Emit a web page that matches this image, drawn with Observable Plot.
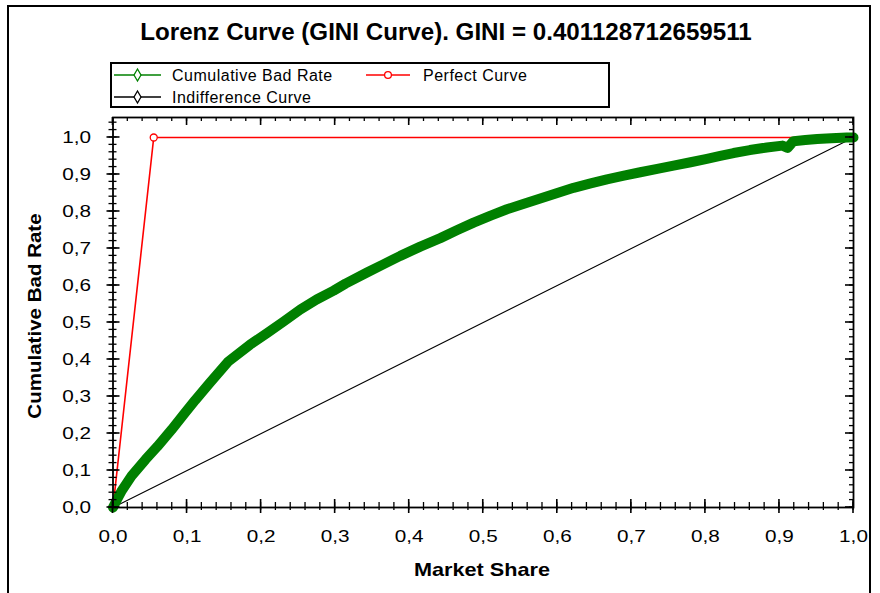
<!DOCTYPE html>
<html>
<head>
<meta charset="utf-8">
<script src="https://cdn.jsdelivr.net/npm/d3@7"></script>
<script src="https://cdn.jsdelivr.net/npm/@observablehq/plot@0.6"></script>
<style>
  body { margin: 0; background: #fff; }
  #chart { position: relative; width: 880px; height: 593px; overflow: hidden; background: #fff;
           font-family: "Liberation Sans", Arial, sans-serif; color: #000; }
  #chart > svg.plot { position: absolute; left: 0; top: 0; }
  .border { position: absolute; background: #000; }
  .title { position: absolute; left: 0; width: 892px; top: 19px; line-height: 26px; text-align: center;
           font-size: 23px; font-weight: bold; white-space: nowrap; transform: scaleX(1.05); }
  .xlabel { position: absolute; left: 382px; width: 200px; top: 558px; line-height: 24px; text-align: center;
            font-size: 19px; font-weight: bold; white-space: nowrap; transform: scaleX(1.14); }
  .ylabel { position: absolute; left: -115px; width: 300px; top: 304px; line-height: 24px; text-align: center;
            font-size: 19px; font-weight: bold; white-space: nowrap; transform: rotate(-90deg) scaleX(1.08); }
  #legend { position: absolute; left: 110px; top: 62px; }
</style>
</head>
<body>
<div id="chart">
  <div class="border" style="left:7px; top:5px; width:2px; height:588px;"></div>
  <div class="border" style="left:7px; top:5px; width:864px; height:2px;"></div>
  <div class="border" style="left:869px; top:5px; width:2px; height:588px;"></div>
  <div class="title">Lorenz Curve (GINI Curve). GINI = 0.401128712659511</div>
  <div class="xlabel">Market Share</div>
  <div class="ylabel">Cumulative Bad Rate</div>
</div>
<script>
// Cumulative bad rate against market share (Lorenz curve of the score)
const marketShare = [0, 0.005, 0.012, 0.025, 0.044, 0.06, 0.079, 0.095, 0.111, 0.13, 0.156, 0.185,
  0.208, 0.23, 0.253, 0.275, 0.298, 0.314, 0.343, 0.365, 0.388, 0.415, 0.442, 0.465, 0.487, 0.51,
  0.532, 0.555, 0.577, 0.6, 0.622, 0.645, 0.667, 0.69, 0.712, 0.735, 0.757, 0.78, 0.802, 0.82,
  0.838, 0.86, 0.883, 0.904, 0.911, 0.919, 0.935, 0.951, 0.97, 0.991, 1.0];
const cumulativeBadRate = [0, 0.02, 0.046, 0.085, 0.13, 0.165, 0.21, 0.25, 0.29, 0.335, 0.395, 0.44,
  0.471, 0.502, 0.535, 0.562, 0.586, 0.605, 0.635, 0.657, 0.68, 0.705, 0.728, 0.75, 0.77, 0.789,
  0.806, 0.821, 0.835, 0.85, 0.864, 0.876, 0.887, 0.897, 0.906, 0.915, 0.924, 0.933, 0.942, 0.95,
  0.958, 0.966, 0.973, 0.978, 0.972, 0.99, 0.993, 0.996, 0.998, 1.0, 1.0];

// Perfect model: all bads captured in the worst-scored share
const perfectShare = [0, 0.055, 1];
const perfectRate = [0, 1, 1];

// Random model: diagonal
const indifferenceShare = [0, 1];
const indifferenceRate = [0, 1];

const majorTicks = [0, 0.1, 0.2, 0.3, 0.4, 0.5, 0.6, 0.7, 0.8, 0.9, 1.0];
const tickLabels = ["0,0", "0,1", "0,2", "0,3", "0,4", "0,5", "0,6", "0,7", "0,8", "0,9", "1,0"];
const minorTicksX = d3.range(0, 51).map(i => i / 50);
const minorTicksY = d3.range(0, 53).map(i => i / 50);

const zip = (xs, ys) => xs.map((x, i) => ({x, y: ys[i]}));
const lorenz = zip(marketShare, cumulativeBadRate);
const perfect = zip(perfectShare, perfectRate);
const indifference = zip(indifferenceShare, indifferenceRate);
const fmt = d => tickLabels[majorTicks.findIndex(t => Math.abs(t - d) < 1e-9)];

// Tick marks on all four sides of the frame, placed through the x and y scales:
// crossing ticks on the bottom and left axes, inward ticks on the top and right.
function frameTicks(index, scales, values, dim) {
  const {x, y} = scales;
  const L = dim.marginLeft, R = dim.width - dim.marginRight;
  const T = dim.marginTop, B = dim.height - dim.marginBottom;
  const g = d3.create("svg:g").attr("stroke", "#000").attr("fill", "none");
  const seg = (x1, y1, x2, y2, w) => g.append("line")
    .attr("x1", x1).attr("y1", y1).attr("x2", x2).attr("y2", y2).attr("stroke-width", w);
  for (const t of minorTicksX) {
    const px = x(t);
    seg(px, B - 5, px, B + 3, 1.3);
    seg(px, T, px, T + 4, 1.3);
  }
  for (const t of majorTicks) {
    const px = x(t);
    seg(px, B - 8, px, B + 6, 1.6);
    seg(px, T, px, T + 8, 1.6);
  }
  for (const t of minorTicksY) {
    const py = y(t);
    seg(L - 4, py, L + 4, py, 1.3);
    seg(R - 4, py, R, py, 1.3);
  }
  for (const t of majorTicks) {
    const py = y(t);
    seg(L - 6, py, L + 7, py, 1.6);
    seg(R - 8, py, R, py, 1.6);
  }
  return g.node();
}

const plot = Plot.plot({
  width: 880,
  height: 593,
  marginLeft: 112.5,
  marginRight: 27,
  marginTop: 117,
  marginBottom: 86,
  x: {domain: [0, 1]},
  y: {domain: [0, 1.054]},
  style: {fontFamily: "'Liberation Sans', Arial, sans-serif", fontSize: "17px", color: "#000", background: "transparent"},
  marks: [
    Plot.line(indifference, {x: "x", y: "y", stroke: "#000", strokeWidth: 1.1}),
    Plot.line(perfect, {x: "x", y: "y", stroke: "#ff0000", strokeWidth: 1.6}),
    Plot.dot(perfect.slice(1, 2), {x: "x", y: "y", r: 3.5, stroke: "#ff0000", fill: "#fff", strokeWidth: 1.3}),
    Plot.line(lorenz, {x: "x", y: "y", stroke: "#008000", strokeWidth: 10, strokeLinejoin: "round", strokeLinecap: "round"}),
    Plot.frame({stroke: "#000", strokeWidth: 1.8}),
    frameTicks,
    Plot.axisX(majorTicks, {anchor: "bottom", tickSize: 0, tickPadding: 22, tickFormat: fmt, label: null}),
    Plot.axisY(majorTicks, {anchor: "left", tickSize: 0, tickPadding: 22, tickFormat: fmt, label: null})
  ]
});
plot.classList.add("plot");

// widen tick labels slightly around their anchor point
plot.querySelectorAll("g[aria-label$='tick label'] text").forEach(t => {
  const tr = t.getAttribute("transform");
  if (tr) t.setAttribute("transform", tr + " scale(1.22,1)");
});

const chart = document.getElementById("chart");
chart.insertBefore(plot, chart.querySelector(".title"));

// legend box
const legendItems = [
  {label: "Cumulative Bad Rate", color: "#008000", symbol: "diamond", x: 4, y: 13},
  {label: "Perfect Curve", color: "#ff0000", symbol: "circle", x: 256, y: 13},
  {label: "Indifference Curve", color: "#000", symbol: "diamond", x: 4, y: 35}
];
const leg = d3.create("svg").attr("id", "legend").attr("width", 500).attr("height", 47);
leg.append("rect").attr("x", 1).attr("y", 1).attr("width", 498).attr("height", 44)
  .attr("fill", "#fff").attr("stroke", "#000").attr("stroke-width", 2);
for (const it of legendItems) {
  const g = leg.append("g").attr("transform", `translate(${it.x},${it.y})`);
  const len = it.symbol === "circle" ? 44 : 47;
  g.append("line").attr("x1", 0).attr("x2", len).attr("stroke", it.color).attr("stroke-width", 1.6);
  g.append("path").attr("transform", `translate(${len / 2},0)`)
    .attr("d", d3.symbol(it.symbol === "circle" ? d3.symbolCircle : d3.symbolDiamond, it.symbol === "circle" ? 36 : 42)())
    .attr("fill", "#fff").attr("stroke", it.color).attr("stroke-width", 1.3);
  g.append("text").attr("x", it.symbol === "circle" ? 57 : 58).attr("dy", "0.35em")
    .attr("font-size", 16).attr("letter-spacing", "0.5px")
    .attr("font-family", "'Liberation Sans', Arial, sans-serif").text(it.label);
}
chart.appendChild(leg.node());
</script>
</body>
</html>
